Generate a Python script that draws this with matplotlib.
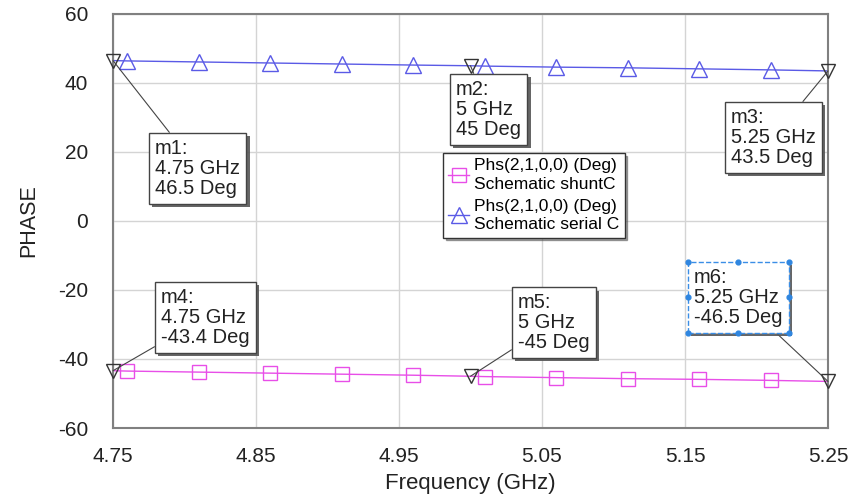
import numpy as np
import matplotlib
matplotlib.use("Agg")
import matplotlib.pyplot as plt
import matplotlib.patheffects as pe

plt.rcParams['font.family'] = ['Liberation Sans', 'DejaVu Sans']
plt.rcParams['axes.unicode_minus'] = False

# S21 phase traces (deg) for the two matching networks
freq = [4.75, 4.76, 4.81, 4.86, 4.91, 4.96, 5.00, 5.01, 5.06, 5.11, 5.16, 5.21, 5.25]
phase_shunt = [-43.4, -43.5, -43.8, -44.1, -44.4, -44.7, -45.0, -45.1, -45.4, -45.7, -45.9, -46.2, -46.5]
phase_serial = [46.5, 46.4, 46.1, 45.8, 45.5, 45.2, 45.0, 44.9, 44.6, 44.4, 44.1, 43.8, 43.5]
sym_idx = [1, 2, 3, 4, 5, 7, 8, 9, 10, 11]

# markers: name, freq, value, label position (top-left of text)
mk_names = ["m1", "m2", "m3", "m4", "m5", "m6"]
mk_freq = [4.75, 5.0, 5.25, 4.75, 5.0, 5.25]
mk_val = [46.5, 45, 43.5, -43.4, -45, -46.5]
mk_txt_x = [4.7794, 4.9899, 5.1822, 4.7836, 5.0332, 5.1563]
mk_txt_y = [23.8, 40.9, 32.75, -19.4, -20.9, -13.6]

fig = plt.figure(figsize=(8.53, 4.99), dpi=100)
ax = fig.add_axes([113/853, 1-428/499, 715/853, 414/499])

blue = '#5a5ae6'
pink = '#e84ee8'
ax.plot(freq, phase_shunt, color=pink, lw=1.0, marker='s', markersize=10,
        markerfacecolor='none', markeredgecolor=pink, markeredgewidth=1.0,
        markevery=sym_idx, label="Phs(2,1,0,0) (Deg)\nSchematic shuntC")
ax.plot(freq, phase_serial, color=blue, lw=1.0, marker='^', markersize=11,
        markerfacecolor='none', markeredgecolor=blue, markeredgewidth=1.0,
        markevery=sym_idx, label="Phs(2,1,0,0) (Deg)\nSchematic serial C")

ax.set_xlim(4.75, 5.25)
ax.set_ylim(-60, 60)
ax.set_xticks([4.75, 4.85, 4.95, 5.05, 5.15, 5.25])
ax.set_xticklabels(["4.75", "4.85", "4.95", "5.05", "5.15", "5.25"])
ax.set_yticks(np.arange(-60, 61, 20))
ax.tick_params(axis='x', length=0, pad=14, labelsize=15, colors='#222222')
ax.tick_params(axis='y', length=0, pad=18, labelsize=15, colors='#222222')
ax.grid(True, color='#d4d4d4', lw=1.0)
for sp in ax.spines.values():
    sp.set_color('#808080')
    sp.set_linewidth(1.5)
ax.set_xlabel("Frequency (GHz)", fontsize=16, labelpad=5, color='#222222')
ax.set_ylabel("PHASE", fontsize=15.5, labelpad=13, color='#222222')

shadow = [pe.withSimplePatchShadow(offset=(2.5, -2.5), shadow_rgbFace='#555555', alpha=0.9)]

texts = []
for i in range(len(mk_names)):
    ax.plot(mk_freq[i], mk_val[i], marker='v', markersize=10, markerfacecolor='none',
            markeredgecolor='#333333', markeredgewidth=1.0, clip_on=False, zorder=5)
    txt = "%s:\n%g GHz\n%g Deg" % (mk_names[i], mk_freq[i], mk_val[i])
    edge = '#3a8ee6' if mk_names[i] == "m6" else '#444444'
    ls = '--' if mk_names[i] == "m6" else '-'
    t = ax.annotate(txt, xy=(mk_freq[i], mk_val[i]), xytext=(mk_txt_x[i], mk_txt_y[i]),
                    textcoords='data', ha='left', va='top', fontsize=14.5, linespacing=1.06,
                    color='#222222',
                    bbox=dict(boxstyle='square,pad=0.3', fc='white', ec=edge, lw=1.0, ls=ls),
                    arrowprops=dict(arrowstyle='-', color='#444444', lw=0.8,
                                    shrinkA=0, shrinkB=0),
                    zorder=6, annotation_clip=False)
    t.get_bbox_patch().set_path_effects(shadow)
    texts.append(t)

leg = ax.legend(loc='upper left', bbox_to_anchor=((443-113)/715, (428-153)/414),
                borderaxespad=0, fontsize=12.5, frameon=True, fancybox=False, shadow=True,
                edgecolor='#333333', handlelength=1.2, handletextpad=0.3,
                labelspacing=0.4, borderpad=0.3, framealpha=1)
leg.get_frame().set_linewidth(1.0)
leg.set_zorder(7)
for lt in leg.get_texts():
    lt.set_linespacing(1.3)

# selection handles round the m6 label box
fig.canvas.draw()
bb = texts[5].get_bbox_patch().get_window_extent()
inv = ax.transAxes.inverted()
x0, y0 = inv.transform((bb.x0, bb.y0))
x1, y1 = inv.transform((bb.x1, bb.y1))
xm, ym = (x0 + x1) / 2, (y0 + y1) / 2
hx = [x0, xm, x1, x0, x1, x0, xm, x1]
hy = [y0, y0, y0, ym, ym, y1, y1, y1]
ax.scatter(hx, hy, s=12, color='#2f86e0', transform=ax.transAxes, zorder=8, clip_on=False)

fig.savefig("out.png", dpi=100)
